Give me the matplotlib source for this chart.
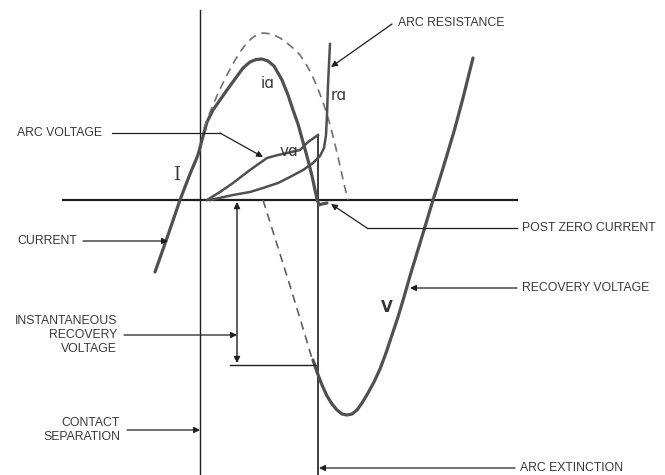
import matplotlib
matplotlib.use("Agg")
import matplotlib.pyplot as plt

# diagram works in image pixel units (x right, y down)
ia_x = [155, 167, 180, 190, 198, 202, 207, 213, 220, 227, 235, 243, 250, 256, 262, 268, 274, 282, 288, 293, 298, 303, 308, 312, 315, 317, 319, 322, 327]
ia_y = [272, 238, 200, 174, 155, 140, 122, 110, 100, 90, 79, 68, 62, 59.5, 59, 61, 66, 80, 95, 110, 124, 142, 160, 176, 190, 199, 205, 204, 203]

prosp_i_x = [204, 210, 216, 222, 228, 234, 240, 246, 252, 258, 263, 268, 274, 280, 287, 294, 300, 306, 312, 318, 324, 329, 334, 338, 342, 345, 348]
prosp_i_y = [128, 112, 98, 85, 73, 62, 52, 44, 38, 34, 33, 33.5, 35, 38, 43, 49, 55, 64, 75, 89, 105, 121, 140, 157, 175, 188, 200]

va_x = [207, 220, 233, 250, 267, 278, 287, 300, 308, 318]
va_y = [200, 192, 183, 170, 158, 155, 153, 150, 142, 135]

ra_x = [210, 233, 250, 263, 278, 290, 303, 313, 320, 324, 326, 327, 328, 330]
ra_y = [200, 195, 192, 188, 183, 177, 170, 163, 156, 148, 135, 115, 85, 44]

prosp_v_x = [263, 270, 280, 291, 302, 313]
prosp_v_y = [200, 222, 254, 289, 325, 362]

v_x = [313, 317, 322, 327, 332, 337, 342, 347, 352, 357, 362, 368, 374, 380, 386, 392, 398, 404, 410, 417, 424, 430, 433, 440, 447, 455, 463, 473]
v_y = [360, 372, 385, 396, 404, 410, 414, 415, 414, 410, 403, 393, 382, 369, 353, 335, 317, 297, 276, 253, 230, 210, 200, 178, 155, 128, 98, 58]

curve_c = "#505050"
line_c = "#1e1e1e"
text_c = "#383838"

fig = plt.figure(figsize=(6.65, 4.75), dpi=100)
ax = fig.add_axes([0, 0, 1, 1])
ax.set_xlim(0, 665)
ax.set_ylim(475, 0)
ax.axis("off")

# reference lines
ax.plot([63, 517], [200, 200], color=line_c, lw=1.6)
ax.plot([200, 200], [10, 475], color=line_c, lw=1.0)
ax.plot([318, 318], [135, 475], color=line_c, lw=1.2)

# curves
ax.plot(ia_x, ia_y, color=curve_c, lw=2.3, solid_capstyle="round", solid_joinstyle="round")
ax.plot(prosp_i_x, prosp_i_y, color="#707070", lw=1.2, ls=(0, (5, 3.5)))
ax.plot(va_x, va_y, color=curve_c, lw=1.8, solid_joinstyle="round")
ax.plot(ra_x, ra_y, color=curve_c, lw=1.8, solid_joinstyle="round")
ax.plot(prosp_v_x, prosp_v_y, color="#606060", lw=1.2, ls=(0, (5, 3.5)))
ax.plot(v_x, v_y, color=curve_c, lw=2.3, solid_capstyle="round", solid_joinstyle="round")

# instantaneous recovery voltage marker
ax.plot([230, 316], [365, 365], color=line_c, lw=1.0)
ax.annotate("", xy=(237, 202), xytext=(237, 363),
            arrowprops=dict(arrowstyle="<|-|>", color=line_c, lw=1.0, mutation_scale=9,
                            shrinkA=0, shrinkB=0))

tkw = dict(fontsize=8.8, color=text_c, family="Liberation Sans", va="center")
akw = dict(arrowstyle="-|>", color=line_c, lw=0.9, mutation_scale=9, shrinkA=0, shrinkB=0)


def pointer(path, label, tx, ty, ha="left"):
    xs = [p[0] for p in path]
    ys = [p[1] for p in path]
    ax.plot(xs[:-1], ys[:-1], color=line_c, lw=0.9)
    ax.annotate("", xy=path[-1], xytext=path[-2], arrowprops=akw)
    ax.text(tx, ty, label, ha=ha, multialignment=ha, linespacing=1.25, **tkw)


pointer([(392, 24), (331, 67)], "ARC RESISTANCE", 398, 23)
pointer([(112, 133), (220, 133), (263, 157)], "ARC VOLTAGE", 17, 133)
pointer([(83, 241), (168, 241)], "CURRENT", 17, 241)
pointer([(517, 228), (367, 228), (331, 204)], "POST ZERO CURRENT", 522, 228)
pointer([(517, 288), (410, 288)], "RECOVERY VOLTAGE", 522, 288)
pointer([(124, 335), (237, 335)], "INSTANTANEOUS\nRECOVERY\nVOLTAGE", 117, 335, ha="right")
pointer([(127, 430), (200, 430)], "CONTACT\nSEPARATION", 120, 430, ha="right")
pointer([(515, 468), (319, 468)], "ARC EXTINCTION", 520, 468)

# curve letters
lkw = dict(color=text_c, ha="center", va="center")
ax.text(268, 83, "iɑ", fontsize=11, family="DejaVu Sans", **lkw)
ax.text(289, 152, "vɑ", fontsize=11, family="DejaVu Sans", **lkw)
ax.text(339, 96, "rɑ", fontsize=11, family="DejaVu Sans", **lkw)
ax.text(177, 175, "I", fontsize=13, family="DejaVu Serif", **lkw)
ax.text(387, 308, "V", fontsize=11, family="DejaVu Sans", fontweight="bold", **lkw)

fig.savefig("out.png", dpi=100, facecolor="white")
